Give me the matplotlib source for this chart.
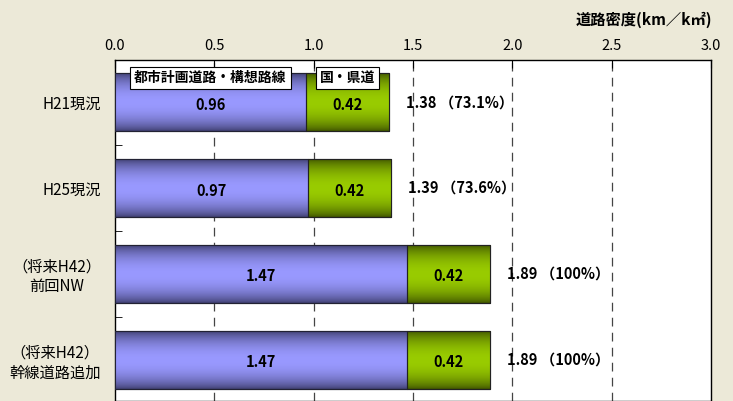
import numpy as np
import matplotlib
matplotlib.use('Agg')
import matplotlib.pyplot as plt
from matplotlib.colors import to_rgb

plt.rcParams['font.family'] = ['Noto Sans CJK JP', 'DejaVu Sans']

# データ
categories = ['H21現況', 'H25現況', '（将来H42）\n前回NW', '（将来H42）\n幹線道路追加']
city_roads = [0.96, 0.97, 1.47, 1.47]      # 都市計画道路・構想路線
pref_roads = [0.42, 0.42, 0.42, 0.42]      # 国・県道
totals = [1.38, 1.39, 1.89, 1.89]
ratios = ['73.1%', '73.6%', '100%', '100%']
series_names = ['都市計画道路・構想路線', '国・県道']
xticks = [0.0, 0.5, 1.0, 1.5, 2.0, 2.5, 3.0]

bg = '#ECE9D8'
fig = plt.figure(figsize=(7.33, 4.01), dpi=100, facecolor=bg)
ax = fig.add_axes([115/733, 0, 596/733, 1 - 60/401])
ax.set_facecolor('white')

y = np.arange(len(categories))
h = 0.67


def gradient(c_dark, c_light):
    t = np.linspace(0, 1, 64)
    w = np.sin(np.pi * t) ** 0.7
    d = np.array(to_rgb(c_dark))
    l = np.array(to_rgb(c_light))
    col = d[None, :] + (l - d)[None, :] * w[:, None]
    return col[:, None, :]


grad_blue = gradient('#3f3f70', '#9999ff')
grad_green = gradient('#405500', '#99cc00')

b1 = ax.barh(y, city_roads, height=h, color='#9999ff', edgecolor='#222233', linewidth=0.8, zorder=3)
b2 = ax.barh(y, pref_roads, left=city_roads, height=h, color='#99cc00', edgecolor='#222222', linewidth=0.8, zorder=3)

for bars, g in [(b1, grad_blue), (b2, grad_green)]:
    for p in bars:
        x0, y0 = p.get_x(), p.get_y()
        im = ax.imshow(g, extent=(x0, x0 + p.get_width(), y0 + p.get_height(), y0),
                       aspect='auto', zorder=3.5, interpolation='bilinear')
        im.set_clip_path(p)
        # 枠線を上に
        ax.add_patch(plt.Rectangle((x0, y0), p.get_width(), p.get_height(), fill=False,
                                   edgecolor=p.get_edgecolor(), linewidth=0.8, zorder=4))

for i in range(len(categories)):
    ax.text(city_roads[i] / 2, y[i] + 0.03, f'{city_roads[i]:.2f}', ha='center', va='center',
            fontsize=10.5, fontweight='bold', zorder=6)
    ax.text(city_roads[i] + pref_roads[i] / 2, y[i] + 0.03, f'{pref_roads[i]:.2f}', ha='center', va='center',
            fontsize=10.5, fontweight='bold', zorder=6)
    ax.annotate(f'{totals[i]:.2f} （{ratios[i]}）', xy=(totals[i], y[i]), xytext=(12, 0),
                textcoords='offset points', ha='left', va='center', fontsize=10.5, fontweight='bold', zorder=6)

# 凡例ラベル (一番上の棒の上)
ax.text(city_roads[0] / 2, y[0] - 0.28, series_names[0], ha='center', va='center', fontsize=10,
        fontweight='bold', zorder=7,
        bbox=dict(boxstyle='square,pad=0.3', fc='white', ec='black', lw=0.8))
ax.text(city_roads[0] + pref_roads[0] / 2, y[0] - 0.28, series_names[1], ha='center', va='center',
        fontsize=10, fontweight='bold', zorder=7,
        bbox=dict(boxstyle='square,pad=0.3', fc='white', ec='black', lw=0.8))

ax.set_xlim(0, 3.0)
ax.set_ylim(3.48, -0.49)
ax.xaxis.tick_top()
ax.set_xticks(xticks)
ax.set_xticklabels([f'{v:.1f}' for v in xticks])
ax.tick_params(axis='x', direction='in', length=6, pad=5, labelsize=10.5, color='black')
ax.set_yticks(y)
ax.set_yticklabels(categories, multialignment='center')
ax.set_yticks(y[:-1] + 0.5, minor=True)
ax.tick_params(axis='y', which='major', length=0, pad=10, labelsize=11)
ax.tick_params(axis='y', which='minor', direction='in', length=5)

for v in xticks[1:-1]:
    ax.axvline(v, color='#444444', lw=0.9, ls=(0, (7, 5)), zorder=1)

for s in ax.spines.values():
    s.set_color('black')
    s.set_linewidth(1)

fig.text(712/733, 1 - 20/401, '道路密度(km／k㎡)', ha='right', va='center', fontsize=11, fontweight='bold')

fig.savefig('out.png', dpi=100, facecolor=bg)
